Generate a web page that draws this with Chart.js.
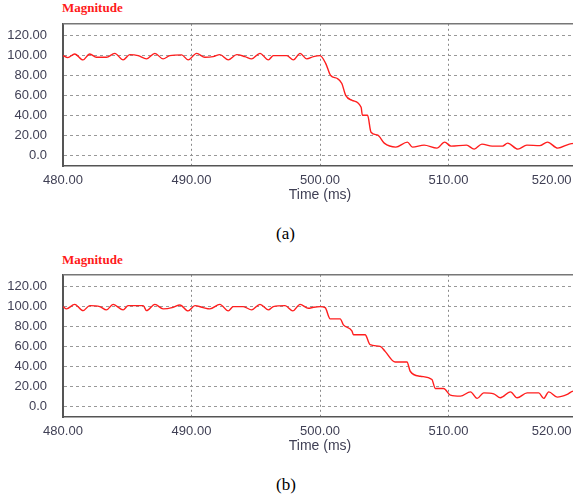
<!DOCTYPE html>
<html>
<head>
<meta charset="utf-8">
<script src="https://cdn.jsdelivr.net/npm/chart.js@4.4.0/dist/chart.umd.min.js"></script>
<style>
  html, body { margin:0; padding:0; background:#fff; overflow:hidden; width:573px; height:499px; }
  .wrap { position:absolute; left:0; width:660px; height:205px; }
  .ttl { position:absolute; left:62px; font:bold 13px "Liberation Serif", "Times New Roman", serif; color:#ff1a1a; }
  .cap { position:absolute; left:276px; font:17px "Liberation Serif", "Times New Roman", serif; color:#000; }
</style>
</head>
<body>
<div class="ttl" style="top:0px">Magnitude</div>
<div class="wrap" style="top:0px"><canvas id="chartA" width="660" height="205"></canvas></div>
<div class="cap" style="top:224px">(a)</div>

<div class="ttl" style="top:252px">Magnitude</div>
<div class="wrap" style="top:251px"><canvas id="chartB" width="660" height="205"></canvas></div>
<div class="cap" style="top:475px">(b)</div>

<script>
// tick values
var xTicks = [480, 490, 500, 510, 520];
var yTicks = [0, 20, 40, 60, 80, 100, 120];

// (a) fast drop
var timeA = [480.0, 480.37, 480.91, 481.56, 482.08, 482.6, 483.38, 484.03, 484.68, 485.2, 485.85, 486.5, 487.15, 487.79, 488.31, 489.23, 489.74, 490.4, 491.04, 491.69, 492.21, 492.86, 493.52, 494.16, 494.68, 495.33, 495.98, 496.37, 497.41, 497.93, 498.45, 498.97, 499.49, 500.0,
  500.45, 500.83, 501.35, 501.7, 502.0, 502.5, 503.2, 503.3, 503.7, 503.97, 504.5, 505.0, 505.9, 506.8, 507.2, 508.1, 509.1, 509.7, 510.2, 511.4, 512.0, 512.6, 513.4, 514.2, 514.6, 515.4, 516.1, 517.1, 517.7, 518.5, 519.4, 520.0];
var magA = [100, 98, 101.7, 95.7, 101.7, 98.3, 98.3, 102.3, 95.7, 101, 100, 96.7, 102.3, 96.7, 100, 100.7, 95.7, 102.3, 98.3, 99, 101, 95.7, 101, 99, 96.7, 102.3, 95.7, 100, 100, 95.7, 102.3, 96.7, 99, 100,
  92, 80, 77, 72, 60, 55, 48, 40, 40, 23, 20, 12, 8, 13, 8, 10, 7, 13, 9, 10, 6, 11, 9, 9, 12, 6, 10, 9.5, 13, 7, 11, 12];

// (b) slow drop
var timeB = [480.0, 480.27, 480.91, 481.56, 482.08, 482.86, 483.38, 483.9, 484.68, 485.07, 486.24, 486.5, 487.15, 487.79, 488.57, 489.1, 489.74, 490.27, 490.91, 491.43, 492.21, 492.86, 493.25, 494.03, 494.68, 495.33, 495.98, 496.37, 497.28, 497.88, 498.45, 499.1, 499.49, 500.01, 500.4,
  500.79, 501.57, 501.82, 502.48, 502.6, 503.51, 503.9, 504.68, 505.07, 505.85, 506.77, 507.02, 507.8, 508.71, 508.97, 509.62, 510.15, 510.93, 511.71, 512.23, 512.74, 513.52, 514.04, 514.82, 515.34, 516.12, 517.02, 517.41, 517.8, 518.46, 519.24, 519.7, 520.0];
var magB = [100, 97.7, 102.3, 96, 101, 100, 96.7, 102.3, 96.7, 101, 101, 96, 102.3, 97.7, 99.3, 101.7, 95.7, 101, 99, 97.7, 102.3, 95.7, 100, 100, 96.7, 102.3, 96.7, 100, 101, 95.7, 102.3, 98.3, 99.3, 100, 99,
  87.7, 87.7, 81.7, 75.7, 71.7, 71.7, 61.7, 60, 55, 44.3, 44.3, 35, 30, 26.7, 17.7, 17.7, 11, 10, 14.3, 7.7, 13.3, 12.3, 8.3, 14.3, 8.3, 13.3, 13.3, 7.7, 14.3, 9, 11.7, 15, 15];

var tickColor = '#404055';
var tickFont = { family: 'Liberation Sans, Arial, sans-serif', size: 13 };

// top edge of the plot frame
var frameTop = {
  id: 'frameTop',
  afterDraw: function(chart){
    var a = chart.chartArea, ctx = chart.ctx;
    ctx.save();
    ctx.strokeStyle = '#777';
    ctx.lineWidth = 1.5;
    ctx.beginPath();
    ctx.moveTo(a.left, a.top);
    ctx.lineTo(a.right, a.top);
    ctx.stroke();
    ctx.restore();
  }
};

function makeChart(id, times, mags){
  var pts = times.map(function(t, i){ return {x: t, y: mags[i]}; });
  return new Chart(document.getElementById(id).getContext('2d'), {
    type: 'line',
    data: {
      datasets: [{
        data: pts,
        borderColor: 'rgb(255,30,30)',
        borderWidth: 1.4,
        pointRadius: 0,
        fill: false,
        cubicInterpolationMode: 'monotone'
      }]
    },
    plugins: [frameTop],
    options: {
      responsive: false,
      animation: false,
      layout: { padding: { top: 23, right: 83, left: 0, bottom: 0 } },
      plugins: { legend: { display: false }, tooltip: { enabled: false } },
      scales: {
        x: {
          type: 'linear',
          min: 480, max: 520,
          afterBuildTicks: function(axis){ axis.ticks = xTicks.map(function(v){ return {value: v}; }); },
          afterFit: function(s){ s.height = 39; },
          ticks: {
            padding: 7,
            maxRotation: 0,
            color: tickColor,
            font: tickFont,
            // last label sits pulled in against the window edge
            callback: function(v){
              var s = Number(v).toFixed(2);
              return v === 520 ? s + '              ' : s;
            }
          },
          grid: { color: '#888', lineWidth: 1, drawTicks: false },
          border: { display: true, color: '#555', width: 1.5, dash: [2, 3] },
          title: {
            display: true,
            text: 'Time (ms)',
            color: tickColor,
            font: { family: 'Liberation Sans, Arial, sans-serif', size: 14 },
            padding: { top: 0, bottom: 1 }
          }
        },
        y: {
          min: -11, max: 132,
          afterBuildTicks: function(axis){ axis.ticks = yTicks.map(function(v){ return {value: v}; }); },
          afterFit: function(s){ s.width = 63; },
          ticks: {
            padding: 16,
            color: tickColor,
            font: tickFont,
            callback: function(v){ return v === 0 ? '0.0' : Number(v).toFixed(2); }
          },
          grid: { color: '#999', lineWidth: 1, drawTicks: false },
          border: { display: true, color: '#555', width: 2, dash: [3, 3] }
        }
      }
    }
  });
}

var chartA = makeChart('chartA', timeA, magA);
var chartB = makeChart('chartB', timeB, magB);
</script>
</body>
</html>
